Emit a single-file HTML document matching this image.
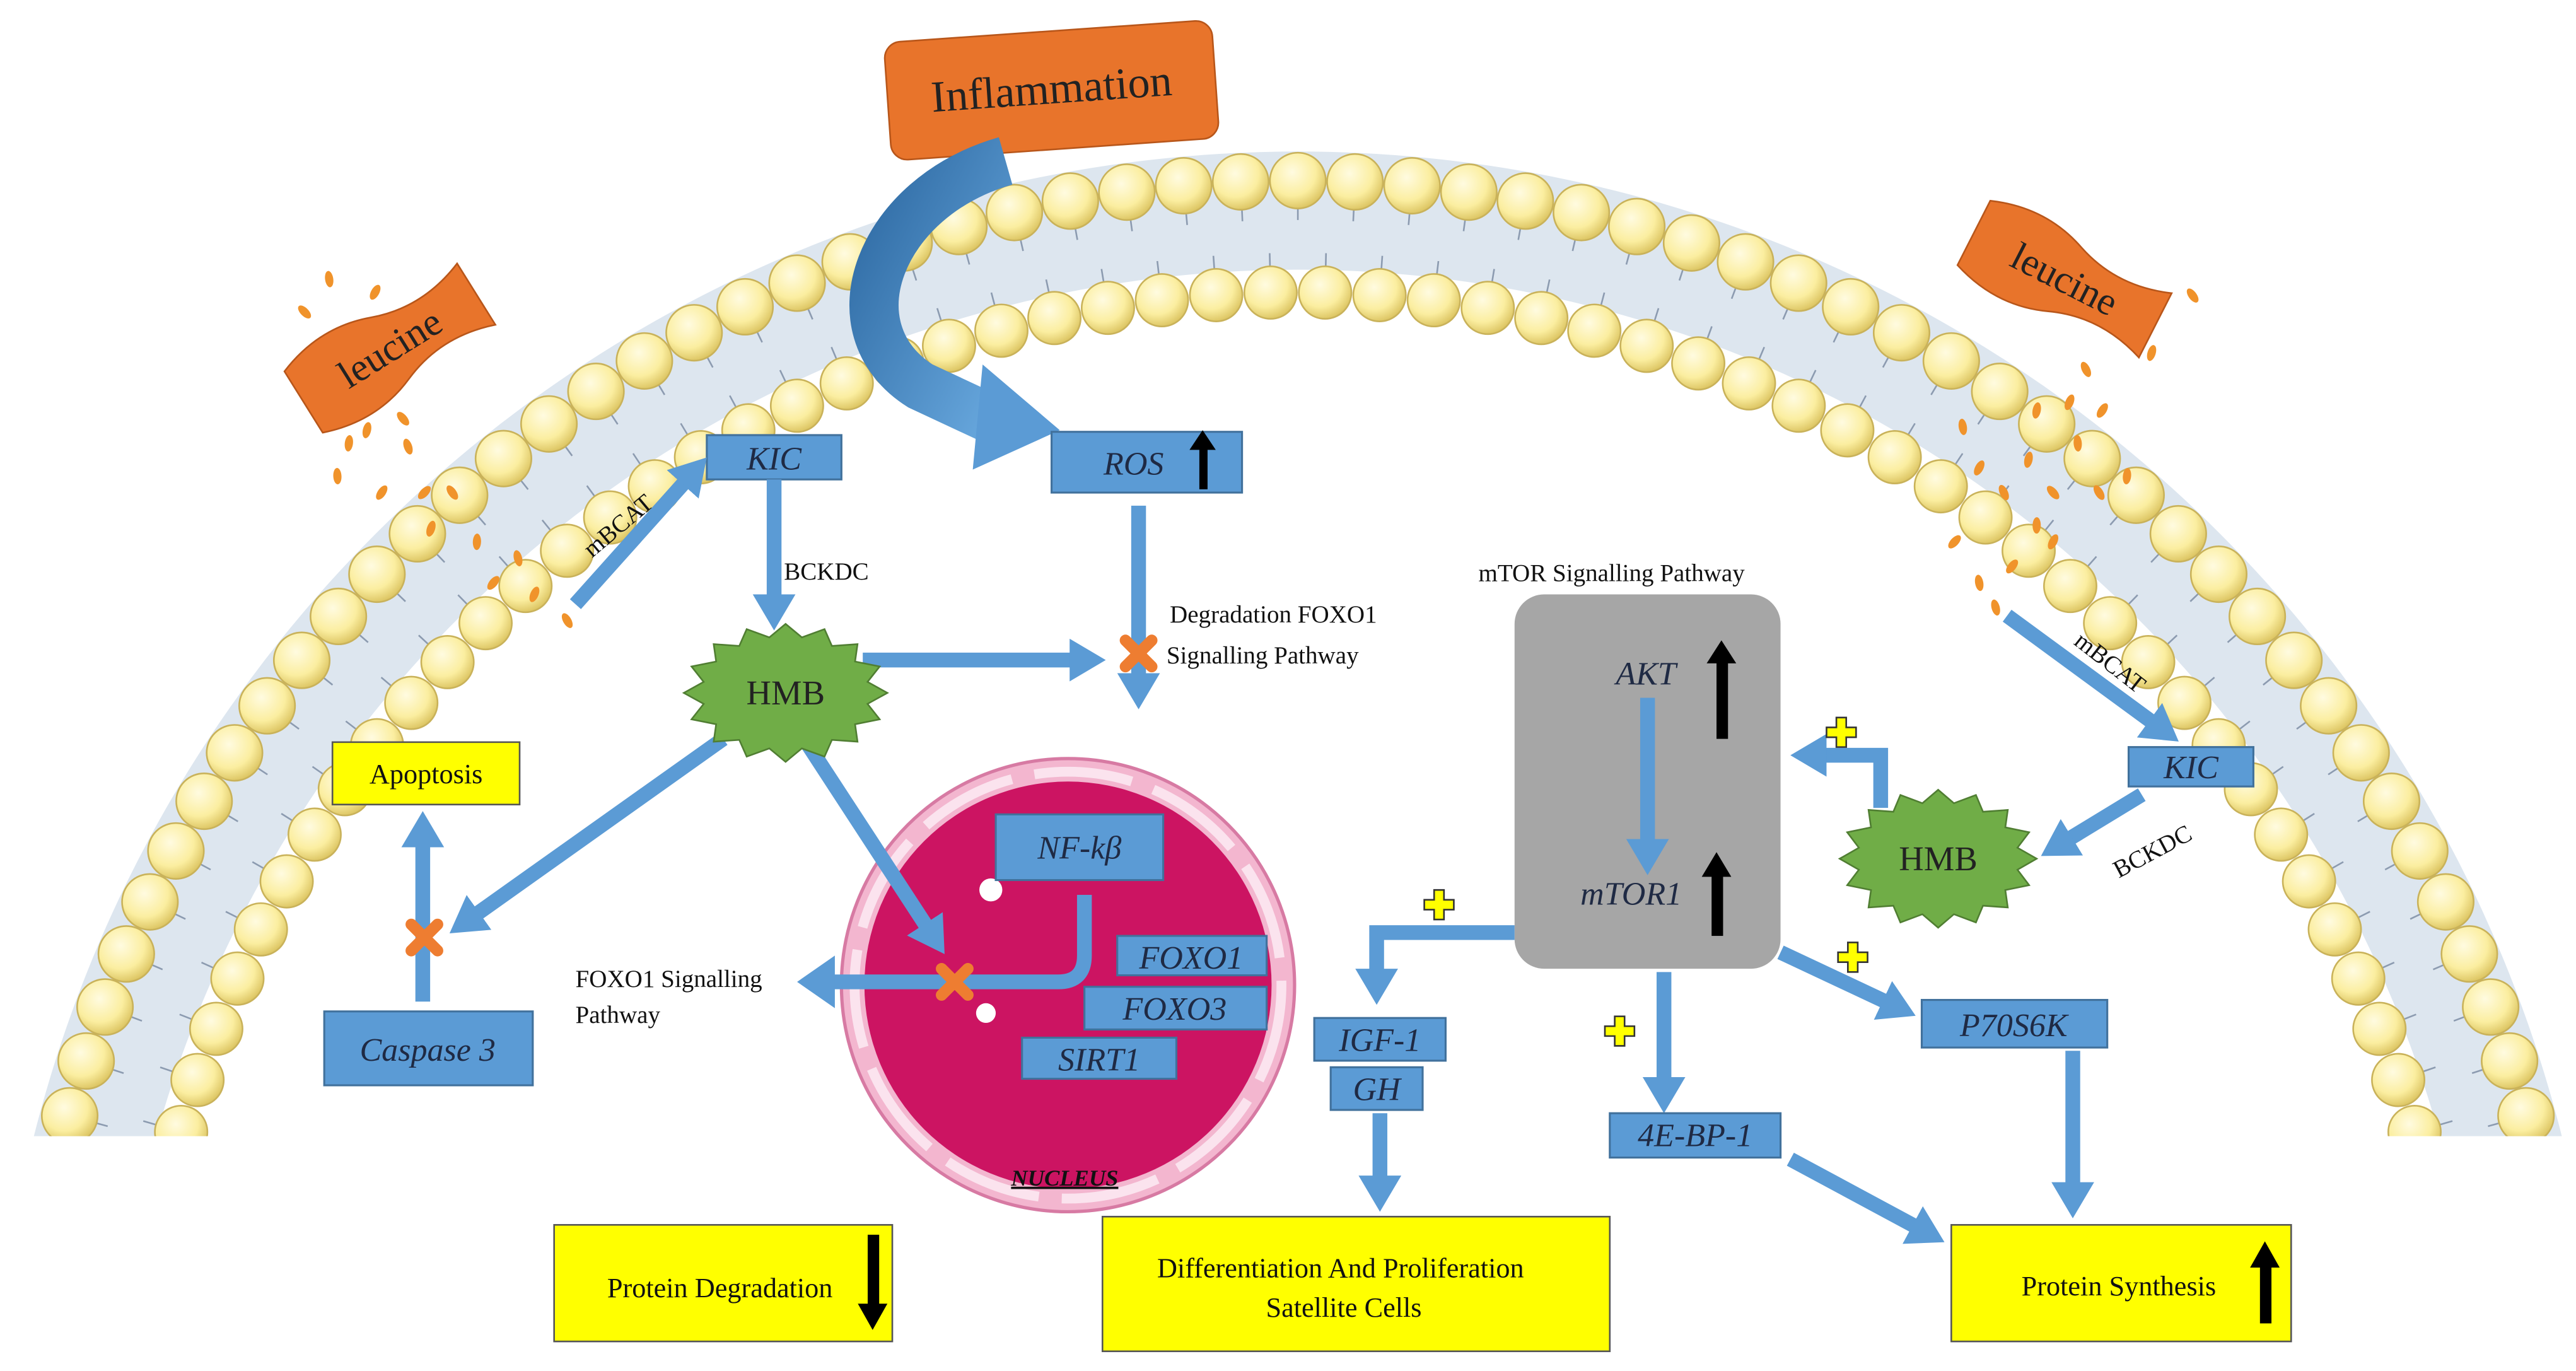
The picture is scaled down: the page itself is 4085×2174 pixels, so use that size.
<!DOCTYPE html>
<html><head><meta charset="utf-8"><style>
html,body{margin:0;padding:0;background:#fff;width:4085px;height:2174px;overflow:hidden;}
svg{display:block;}
text{font-family:"Liberation Serif",serif;}
.bx{fill:#5b9bd5;stroke:#41719c;stroke-width:1.2;}
.bt{font-style:italic;font-size:20px;fill:#1f2a44;text-anchor:middle;}
.yb{fill:#ffff00;stroke:#555;stroke-width:1;}
.yt{font-size:17px;fill:#111;text-anchor:middle;}
.lbl{font-size:15px;fill:#111;}
.ar{stroke:#5b9bd5;stroke-width:9;fill:none;}
</style></head><body>
<svg id="s" width="4085" height="2174" viewBox="0 0 1568 835" xmlns="http://www.w3.org/2000/svg">
<defs>
<marker id="m" markerUnits="userSpaceOnUse" markerWidth="26" markerHeight="26" refX="4" refY="13" orient="auto">
<path d="M0,0 L22,13 L0,26 Z" fill="#5b9bd5"/></marker>
<radialGradient id="hg" cx="0.4" cy="0.35" r="0.7"><stop offset="0" stop-color="#fffbe0"/><stop offset="0.6" stop-color="#fbeea0"/><stop offset="1" stop-color="#d8bf5a"/></radialGradient>
<linearGradient id="ig" x1="0" y1="0" x2="1" y2="1"><stop offset="0" stop-color="#2e6aa3"/><stop offset="1" stop-color="#6aaae0"/></linearGradient>
<clipPath id="cl"><rect x="0" y="0" width="1568" height="692"/></clipPath>
</defs>
<rect width="1568" height="835" fill="#fff"/>
<g clip-path="url(#cl)">
<path d="M-4,886 A794,794 0 0 1 1584,886 L1512,886 A722,722 0 0 0 68,886 Z" fill="#dde6ef"/>
<g id="tails" stroke="#8c9bb0" stroke-width="1"></g>
<g id="heads"></g>
</g>
<g id="dots" fill="#f0932b"></g>
<g transform="translate(237,212) rotate(-32)"><path d="M-62,-22 Q-30,-34 0,-22 Q30,-10 62,-22 L62,22 Q30,10 0,22 Q-30,34 -62,22 Z" fill="#e8742b" stroke="#b8561a"/><text x="0" y="8" font-size="24" text-anchor="middle" fill="#222">leucine</text></g>
<g transform="translate(1257,170) rotate(27)"><path d="M-62,-22 Q-30,-34 0,-22 Q30,-10 62,-22 L62,22 Q30,10 0,22 Q-30,34 -62,22 Z" fill="#e8742b" stroke="#b8561a"/><text x="0" y="8" font-size="24" text-anchor="middle" fill="#222">leucine</text></g>
<g transform="translate(640,55) rotate(-4)"><rect x="-100" y="-36" width="200" height="72" rx="10" fill="#e8742b" stroke="#b8561a"/><text x="0" y="8" font-size="27" text-anchor="middle" fill="#222">Inflammation</text></g>
<path d="M612,98 C535,120 505,200 560,235 L605,256" stroke="url(#ig)" stroke-width="30" fill="none"/>
<polygon points="598,222 645,262 592,286" fill="#5b9bd5"/>
<rect class="bx" x="430" y="265" width="82" height="27"/><text class="bt" x="471" y="286">KIC</text>
<rect class="bx" x="640" y="263" width="116" height="37"/><text class="bt" x="690" y="289">ROS</text><rect x="730" y="270" width="5" height="28" fill="#000"/><polygon points="724,274 732,262 740,274" fill="#000"/>
<circle cx="650" cy="600" r="138" fill="#f3b6cf" stroke="#d77aa3" stroke-width="2"/>
<circle cx="650" cy="600" r="124" fill="#cc1462"/>
<circle cx="650" cy="600" r="130" fill="none" stroke="#fbe3ee" stroke-width="6" stroke-dasharray="60 14"/>
<circle cx="603" cy="542" r="7" fill="#fff"/><circle cx="640" cy="510" r="6" fill="#fff"/><circle cx="600" cy="617" r="6" fill="#fff"/>
<text x="648" y="722" font-size="14" font-weight="bold" font-style="italic" text-anchor="middle" text-decoration="underline" fill="#111">NUCLEUS</text>
<rect class="bx" x="606" y="496" width="102" height="40"/><text class="bt" x="657" y="523">NF-kβ</text>
<path d="M660,545 L660,582 Q660,598 644,598 L505,598" class="ar" stroke-width="18"/>
<polygon points="508,582 485,598 508,614" fill="#5b9bd5"/>
<rect class="bx" x="680" y="570" width="91" height="24"/><text class="bt" x="725" y="590">FOXO1</text>
<rect class="bx" x="660" y="601" width="111" height="26"/><text class="bt" x="715" y="621">FOXO3</text>
<rect class="bx" x="622" y="632" width="94" height="25"/><text class="bt" x="669" y="652">SIRT1</text>
<text class="lbl" x="350" y="601">FOXO1 Signalling</text><text class="lbl" x="350" y="623">Pathway</text>
<line class="ar" x1="350" y1="368" x2="418" y2="292" marker-end="url(#m)"/>
<text class="lbl" transform="translate(360,340) rotate(-40)">mBCAT</text>
<line class="ar" x1="471" y1="292" x2="471" y2="366" marker-end="url(#m)"/>
<text class="lbl" x="477" y="353">BCKDC</text>
<line class="ar" x1="525" y1="402" x2="655" y2="402" marker-end="url(#m)"/>
<line class="ar" x1="693" y1="308" x2="693" y2="414" marker-end="url(#m)"/>
<text class="lbl" x="712" y="379">Degradation FOXO1</text><text class="lbl" x="710" y="404">Signalling  Pathway</text>
<line class="ar" x1="440" y1="450" x2="288" y2="558" marker-end="url(#m)"/>
<line class="ar" x1="488" y1="448" x2="565" y2="566" marker-end="url(#m)"/>
<rect class="yb" x="202" y="452" width="114" height="38"/><text class="yt" x="259" y="477">Apoptosis</text>
<line class="ar" x1="257" y1="610" x2="257" y2="512" marker-end="url(#m)"/>
<rect class="bx" x="197" y="616" width="127" height="45"/><text class="bt" x="260" y="646">Caspase 3</text>
<polygon id="hmb1" fill="#70ad47" stroke="#507e32"/>
<text x="478" y="429" font-size="21" text-anchor="middle" fill="#222">HMB</text>
<g stroke="#ee7d31" stroke-width="7" stroke-linecap="round">
<path d="M685,390 L701,406 M701,390 L685,406"/><path d="M573,590 L589,606 M589,590 L573,606"/><path d="M250,563 L266,579 M266,563 L250,579"/></g>
<text class="lbl" x="900" y="354">mTOR Signalling  Pathway</text>
<rect x="922" y="362" width="162" height="228" rx="18" fill="#a6a6a6"/>
<text class="bt" x="1002" y="417">AKT</text>
<rect x="1045" y="400" width="7" height="50" fill="#000"/><polygon points="1039,404 1048,390 1057,404" fill="#000"/>
<line class="ar" x1="1003" y1="425" x2="1003" y2="515" stroke-width="7" marker-end="url(#m)"/>
<text class="bt" x="993" y="551">mTOR1</text>
<rect x="1042" y="530" width="7" height="40" fill="#000"/><polygon points="1036,534 1045,519 1054,534" fill="#000"/>
<polyline class="ar" points="922,568 838,568 838,594" marker-end="url(#m)"/>
<line class="ar" x1="1013" y1="592" x2="1013" y2="660" marker-end="url(#m)"/>
<line class="ar" x1="1084" y1="580" x2="1150" y2="611" marker-end="url(#m)"/>
<rect class="bx" x="800" y="620" width="80" height="26"/><text class="bt" x="840" y="640">IGF-1</text>
<rect class="bx" x="810" y="650" width="56" height="26"/><text class="bt" x="838" y="670">GH</text>
<rect class="bx" x="1170" y="609" width="113" height="29"/><text class="bt" x="1226" y="631">P70S6K</text>
<rect class="bx" x="980" y="678" width="104" height="27"/><text class="bt" x="1032" y="698">4E-BP-1</text>
<line class="ar" x1="840" y1="678" x2="840" y2="720" marker-end="url(#m)"/>
<line class="ar" x1="1090" y1="706" x2="1168" y2="748" marker-end="url(#m)"/>
<line class="ar" x1="1262" y1="640" x2="1262" y2="724" marker-end="url(#m)"/>
<line class="ar" x1="1222" y1="375" x2="1312" y2="441" marker-end="url(#m)"/>
<text class="lbl" transform="translate(1262,392) rotate(38)">mBCAT</text>
<rect class="bx" x="1296" y="455" width="76" height="24"/><text class="bt" x="1334" y="474">KIC</text>
<line class="ar" x1="1304" y1="484" x2="1258" y2="512" marker-end="url(#m)"/>
<text class="lbl" transform="translate(1290,535) rotate(-28)">BCKDC</text>
<polygon id="hmb2" fill="#70ad47" stroke="#507e32"/>
<text x="1180" y="530" font-size="21" text-anchor="middle" fill="#222">HMB</text>
<polyline class="ar" points="1145,492 1145,460 1108,460" marker-end="url(#m)"/>
<g fill="#ffff00" stroke="#333" stroke-width="1">
<path d="M-3,-9 h6 v6 h6 v6 h-6 v6 h-6 v-6 h-6 v-6 h6 Z" transform="translate(876,551)"/>
<path d="M-3,-9 h6 v6 h6 v6 h-6 v6 h-6 v-6 h-6 v-6 h6 Z" transform="translate(1121,446)"/>
<path d="M-3,-9 h6 v6 h6 v6 h-6 v6 h-6 v-6 h-6 v-6 h6 Z" transform="translate(1128,583)"/>
<path d="M-3,-9 h6 v6 h6 v6 h-6 v6 h-6 v-6 h-6 v-6 h6 Z" transform="translate(986,628)"/></g>
<rect class="yb" x="337" y="746" width="206" height="71"/><text class="yt" x="438" y="790">Protein Degradation</text>
<rect x="528" y="752" width="7" height="44" fill="#000"/><polygon points="522,794 531,810 540,794" fill="#000"/>
<rect class="yb" x="671" y="741" width="309" height="82"/><text class="yt" x="816" y="778">Differentiation And Proliferation</text><text class="yt" x="818" y="802">Satellite Cells</text>
<rect class="yb" x="1188" y="746" width="207" height="71"/><text class="yt" x="1290" y="789">Protein Synthesis</text>
<rect x="1376" y="770" width="7" height="36" fill="#000"/><polygon points="1370,772 1379,756 1388,772" fill="#000"/>
</svg>
<script>
var NS="http://www.w3.org/2000/svg";
var cx=790,cy=886,h=document.getElementById('heads'),t=document.getElementById('tails');
function c(tag,a,p){var e=document.createElementNS(NS,tag);for(var k in a)e.setAttribute(k,a[k]);p.appendChild(e);}
function row(R,r,step,dir){var n=Math.round(Math.PI*R/step);for(var i=0;i<=n;i++){var a=Math.PI*i/n;var x=cx-R*Math.cos(a),y=cy-R*Math.sin(a);
 var x2=cx-(R+dir*24)*Math.cos(a),y2=cy-(R+dir*24)*Math.sin(a);
 c('line',{x1:x,y1:y,x2:x2,y2:y2},t);
 c('circle',{cx:x,cy:y,r:r,fill:'url(#hg)',stroke:'#c9b25a','stroke-width':1},h);}}
row(776,17,35,-1);row(708,16,33,1);
function star(id,X,Y,rx,ry,n){var p=[];for(var i=0;i<2*n;i++){var a=Math.PI*i/n;var k=i%2?0.82:1;p.push((X+rx*k*Math.cos(a)).toFixed(1)+','+(Y+ry*k*Math.sin(a)).toFixed(1));}document.getElementById(id).setAttribute('points',p.join(' '));}
star('hmb1',478,422,62,42,16);star('hmb2',1180,523,60,42,16);
var d=document.getElementById('dots');var pts=[[185,190],[200,170],[228,178],[213,230],[223,262],[245,255],[205,290],[232,300],[248,272],[262,322],[275,300],[290,330],[300,355],[315,340],[325,362],[345,378],[212,270],[258,300],[1195,260],[1205,285],[1220,300],[1235,280],[1250,300],[1265,270],[1280,250],[1296,200],[1310,215],[1335,180],[1240,320],[1225,345],[1215,370],[1260,245],[1278,300],[1295,290],[1190,330],[1205,355],[1250,330],[1270,225],[1240,250]];
pts.forEach(function(q,i){c('ellipse',{cx:q[0],cy:q[1],rx:2.5,ry:5,transform:'rotate('+(i*37%90-45)+' '+q[0]+' '+q[1]+')'},d);});
</script>
</body></html>
